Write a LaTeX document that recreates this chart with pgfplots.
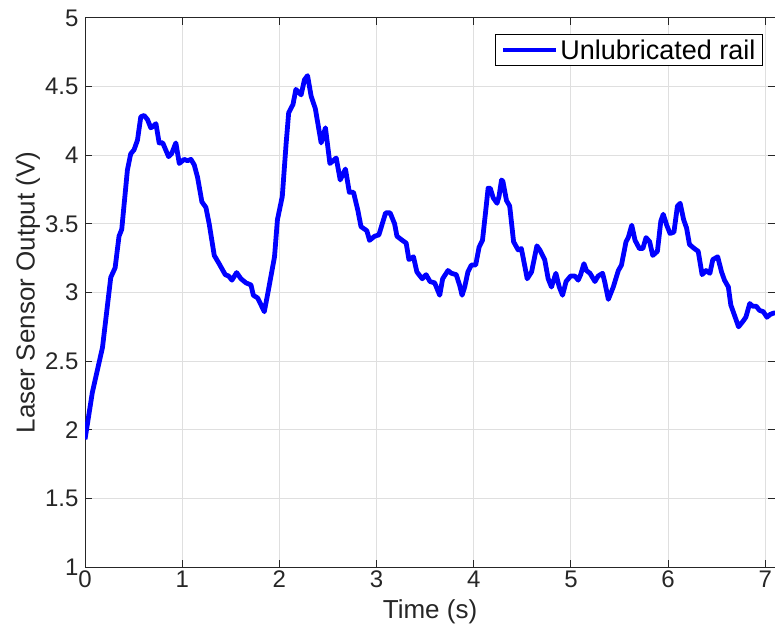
\documentclass[border=0pt]{standalone}
\usepackage{fontspec}
\setmainfont{Liberation Sans}
\usepackage{pgfplots}
\pgfplotsset{compat=1.18}
\definecolor{gridc}{RGB}{223,223,223}
\definecolor{axc}{RGB}{38,38,38}
\begin{document}
\begin{tikzpicture}
\begin{axis}[
  scale only axis, width=690pt, height=549pt,
  xmin=0, xmax=7.1, ymin=1, ymax=5,
  xtick={0,1,...,7}, ytick={1,1.5,...,5},
  grid=major,
  major grid style={gridc, line width=1pt},
  axis line style={axc, line width=1pt},
  tick style={axc, line width=1pt},
  major tick length=7pt,
  tick align=inside,
  xtick pos=both, ytick pos=both,
  /pgf/number format/assume math mode=true,
  tick label style={font=\fontsize{24}{28}\selectfont, text=axc},
  yticklabel style={xshift=-3pt},
  label style={font=\fontsize{26}{30}\selectfont, text=axc},
  xlabel={Time (s)}, ylabel={Laser Sensor Output (V)},
  xlabel style={at={(axis description cs:0.5,-0.082)}, anchor=center},
  ylabel style={at={(axis description cs:-0.0826,0.5)}, anchor=center},
  legend style={at={(rel axis cs:1,1)}, anchor=north east, xshift=-12pt, yshift=-16pt,
    font=\fontsize{27}{31}\selectfont, draw=black, line width=1pt,
    inner xsep=5pt, inner ysep=3pt},
  legend image code/.code={\draw[#1, line width=4.5pt] (0pt,0pt) -- (53pt,0pt);},
]
\addplot[color={rgb,255:red,0;green,0;blue,255}, line width=4.8pt, line join=round] coordinates {
(0.0,1.93) (0.075,2.27) (0.18,2.60) (0.21,2.78) (0.265,3.11) (0.31,3.18) (0.35,3.41) (0.378,3.46)
(0.436,3.89) (0.47,4.01) (0.505,4.04) (0.54,4.11) (0.574,4.28) (0.608,4.29) (0.643,4.26) (0.677,4.20)
(0.70,4.21) (0.73,4.23) (0.763,4.09) (0.80,4.09) (0.86,3.99) (0.89,4.01) (0.935,4.09) (0.97,3.94)
(1.02,3.97) (1.055,3.96) (1.09,3.97) (1.124,3.93) (1.158,3.84) (1.203,3.66) (1.244,3.62) (1.278,3.50)
(1.33,3.27) (1.38,3.21) (1.443,3.13) (1.478,3.12) (1.512,3.09) (1.56,3.145) (1.605,3.10) (1.657,3.07)
(1.708,3.055) (1.732,2.98) (1.777,2.96) (1.845,2.86) (1.88,2.99) (1.95,3.26) (1.98,3.53) (2.03,3.70)
(2.07,4.09) (2.096,4.31) (2.14,4.37) (2.17,4.48) (2.224,4.44) (2.258,4.55) (2.29,4.58) (2.327,4.43)
(2.37,4.34) (2.43,4.09) (2.474,4.20) (2.52,3.94) (2.585,3.98) (2.626,3.82) (2.68,3.90) (2.72,3.73)
(2.763,3.73) (2.807,3.60) (2.84,3.48) (2.90,3.45) (2.928,3.38) (2.98,3.41) (3.024,3.42) (3.05,3.48)
(3.093,3.58) (3.14,3.58) (3.186,3.50) (3.21,3.41) (3.265,3.38) (3.305,3.36) (3.333,3.24) (3.38,3.26)
(3.415,3.15) (3.47,3.10) (3.51,3.13) (3.55,3.08) (3.598,3.07) (3.65,2.98) (3.68,3.10) (3.735,3.16)
(3.77,3.14) (3.82,3.13) (3.856,3.05) (3.88,2.98) (3.907,3.04) (3.94,3.15) (3.976,3.20) (4.02,3.20)
(4.055,3.33) (4.09,3.38) (4.124,3.60) (4.148,3.76) (4.17,3.76) (4.20,3.69) (4.24,3.65) (4.26,3.70)
(4.286,3.82) (4.30,3.81) (4.337,3.67) (4.37,3.63) (4.41,3.37) (4.457,3.31) (4.49,3.32) (4.526,3.19)
(4.55,3.10) (4.595,3.15) (4.65,3.34) (4.68,3.31) (4.73,3.24) (4.766,3.10) (4.80,3.04) (4.845,3.14)
(4.88,3.04) (4.914,2.98) (4.95,3.08) (4.997,3.12) (5.04,3.12) (5.075,3.09) (5.10,3.13) (5.134,3.21)
(5.16,3.16) (5.196,3.14) (5.247,3.08) (5.28,3.12) (5.326,3.14) (5.35,3.07) (5.385,2.95) (5.436,3.04)
(5.488,3.16) (5.52,3.20) (5.567,3.37) (5.59,3.40) (5.626,3.49) (5.66,3.38) (5.705,3.32) (5.74,3.32)
(5.773,3.40) (5.81,3.37) (5.842,3.27) (5.89,3.30) (5.925,3.52) (5.95,3.57) (5.986,3.49) (6.02,3.43)
(6.06,3.44) (6.096,3.63) (6.124,3.65) (6.16,3.53) (6.19,3.47) (6.22,3.35) (6.27,3.32) (6.31,3.30)
(6.35,3.13) (6.39,3.16) (6.43,3.14) (6.46,3.24) (6.51,3.26) (6.55,3.15) (6.58,3.09) (6.62,3.04)
(6.645,2.91) (6.69,2.82) (6.725,2.75) (6.77,2.79) (6.80,2.82) (6.84,2.92) (6.87,2.90) (6.907,2.90)
(6.94,2.87) (6.98,2.86) (7.017,2.82) (7.05,2.84) (7.085,2.85) (7.1,2.85)
};
\addlegendentry{Unlubricated rail}
\end{axis}
\pgfresetboundingbox
\path[use as bounding box] ([xshift=-85pt,yshift=-65pt]current axis.south west) rectangle ([yshift=18pt]current axis.north east);
\end{tikzpicture}
\end{document}
